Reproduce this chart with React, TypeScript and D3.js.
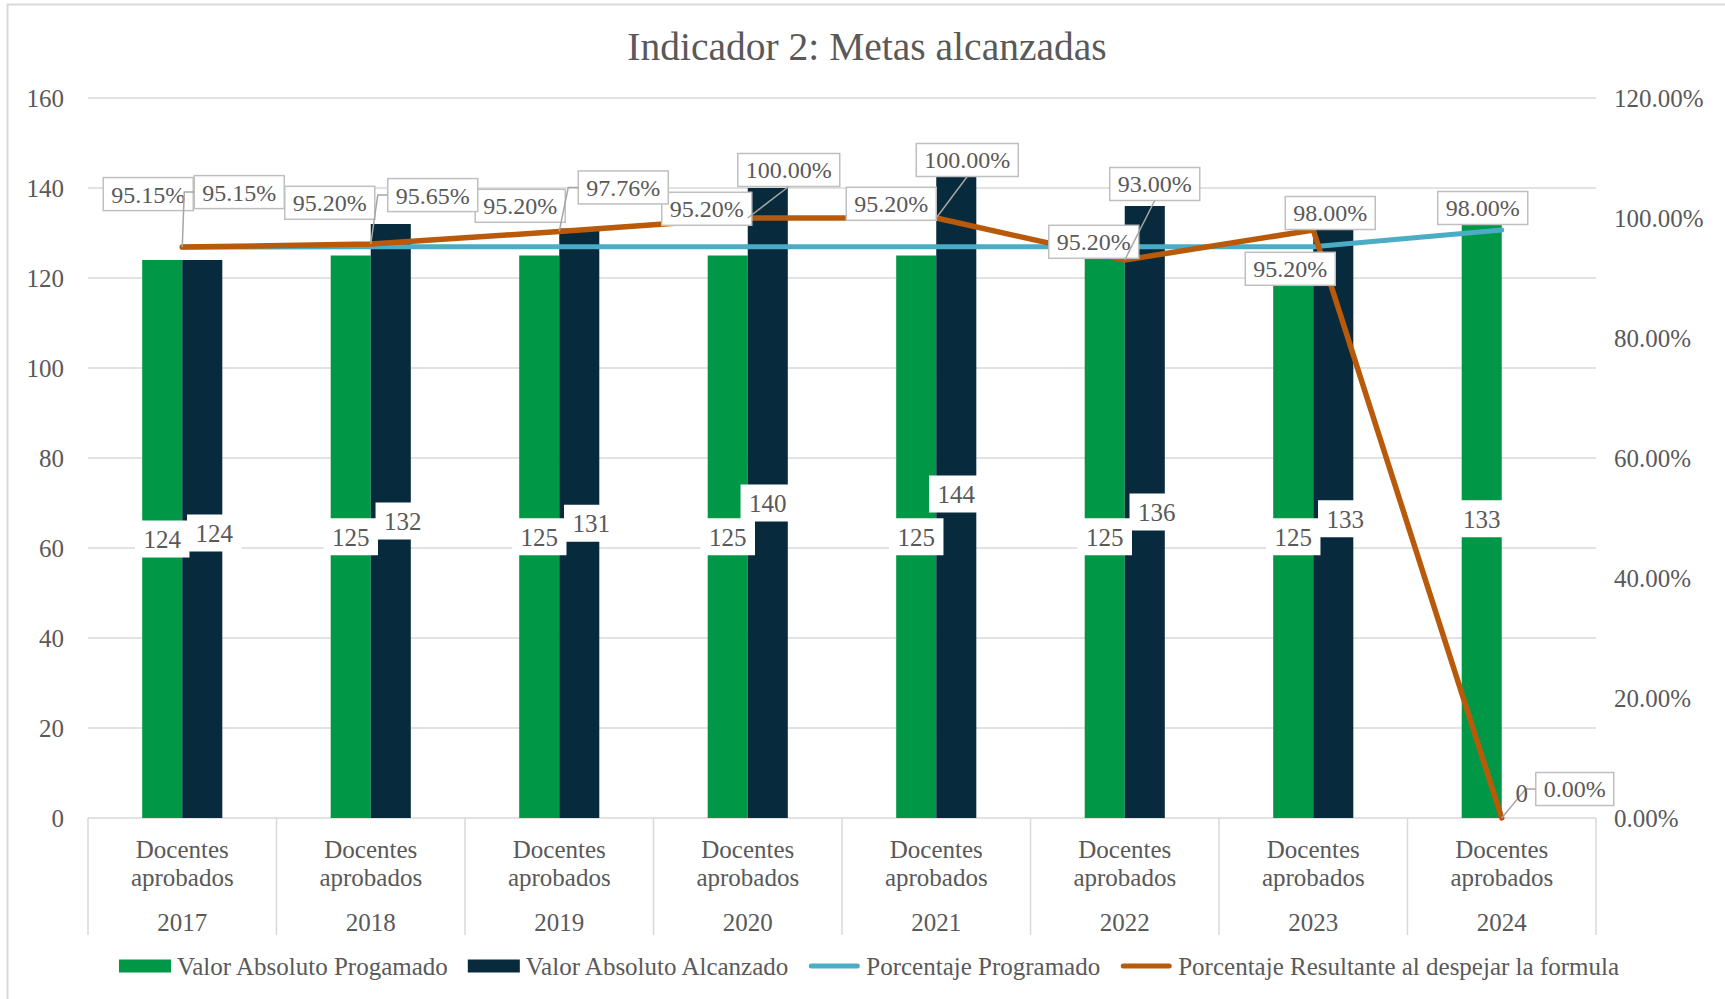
import React, { useEffect, useRef } from 'react';
import * as d3 from 'd3';

const years = ['2017', '2018', '2019', '2020', '2021', '2022', '2023', '2024'];
const categoryLines = ['Docentes', 'aprobados'];
const valorProgramado = [124, 125, 125, 125, 125, 125, 125, 133];
const valorAlcanzado = [124, 132, 131, 140, 144, 136, 133, 0];
const porcentajeProgramado = [95.15, 95.2, 95.2, 95.2, 95.2, 95.2, 95.2, 98.0];
const porcentajeResultante = [95.15, 95.65, 97.76, 100.0, 100.0, 93.0, 98.0, 0.0];
const leftTicks = [0, 20, 40, 60, 80, 100, 120, 140, 160];
const rightTicks = [0, 0.2, 0.4, 0.6, 0.8, 1.0, 1.2];
const seriesNames = [
  'Valor Absoluto Progamado',
  'Valor Absoluto Alcanzado',
  'Porcentaje Programado',
  'Porcentaje Resultante al despejar la formula',
];

// hand-placed label offsets (px from the point), like the excel sheet
const progLabelOffset = [[-34, -53], [-41, -44], [-39, -41], [-41, -38], [-45, -43], [-31, -5], [-23, 22], [-19, -22]];
const resLabelOffset = [[57, -55], [62, -49], [64, -44], [41, -48], [31, -58], [30, -76], [17, -17], [73, -29]];

const FONT = '"Liberation Serif", "Times New Roman", serif';
const TEXT = '#595959';
const GRID = '#D9D9D9';
const GREEN = '#009847';
const NAVY = '#072A3C';
const BLUE = '#4BACC6';
const ORANGE = '#B95A0A';

const draw = (el: SVGSVGElement) => {
  const svg = d3.select(el);
  svg.selectAll('*').remove();

  const left = 88, right = 1596, top = 98, base = 818;

  const x0 = d3.scaleBand().domain(years).range([left, right]);
  const bw = x0.bandwidth();
  const groupW = bw * 0.425;
  const x1 = d3.scaleBand().domain(['prog', 'alc']).range([-groupW / 2, groupW / 2]);
  const yL = d3.scaleLinear().domain([0, 160]).range([base, top]);
  const yR = d3.scaleLinear().domain([0, 1.2]).range([base, top]);
  const cx = (i: number) => (x0(years[i]) as number) + bw / 2;

  // chart border
  svg.append('rect')
    .attr('x', 7.5).attr('y', 4.5)
    .attr('width', 1800).attr('height', 1100)
    .attr('fill', '#fff')
    .attr('stroke', GRID).attr('stroke-width', 2);

  // title
  svg.append('text')
    .attr('x', 867).attr('y', 60)
    .attr('text-anchor', 'middle')
    .style('font-family', FONT).style('font-size', '39.5px')
    .attr('fill', TEXT)
    .text('Indicador 2: Metas alcanzadas');

  // gridlines
  svg.append('g').selectAll('line')
    .data(leftTicks)
    .enter().append('line')
    .attr('x1', left).attr('x2', right)
    .attr('y1', d => yL(d)).attr('y2', d => yL(d))
    .attr('stroke', GRID).attr('stroke-width', 1.5);

  // category dividers
  const bounds = d3.range(years.length + 1).map(i => left + i * bw);
  svg.append('g').selectAll('line')
    .data(bounds)
    .enter().append('line')
    .attr('x1', d => d).attr('x2', d => d)
    .attr('y1', base).attr('y2', 935)
    .attr('stroke', GRID).attr('stroke-width', 1.5);

  // left axis labels
  svg.append('g').selectAll('text')
    .data(leftTicks)
    .enter().append('text')
    .attr('x', 64).attr('y', d => yL(d)).attr('dy', '0.35em')
    .attr('text-anchor', 'end')
    .style('font-family', FONT).style('font-size', '25px')
    .attr('fill', TEXT)
    .text(d => d);

  // right axis labels
  svg.append('g').selectAll('text')
    .data(rightTicks)
    .enter().append('text')
    .attr('x', 1614).attr('y', d => yR(d)).attr('dy', '0.35em')
    .attr('text-anchor', 'start')
    .style('font-family', FONT).style('font-size', '25px')
    .attr('fill', TEXT)
    .text(d => d3.format('.2%')(d));

  // category labels
  const cat = svg.append('g')
    .style('font-family', FONT).style('font-size', '25px')
    .attr('fill', TEXT).attr('text-anchor', 'middle');
  years.forEach((yr, i) => {
    cat.append('text').attr('x', cx(i)).attr('y', 849).attr('dy', '0.35em').text(categoryLines[0]);
    cat.append('text').attr('x', cx(i)).attr('y', 877).attr('dy', '0.35em').text(categoryLines[1]);
    cat.append('text').attr('x', cx(i)).attr('y', 922).attr('dy', '0.35em').text(yr);
  });

  // bars
  const bars = svg.append('g');
  years.forEach((yr, i) => {
    bars.append('rect')
      .attr('x', cx(i) + (x1('prog') as number)).attr('width', x1.bandwidth())
      .attr('y', yL(valorProgramado[i])).attr('height', base - yL(valorProgramado[i]))
      .attr('fill', GREEN);
    bars.append('rect')
      .attr('x', cx(i) + (x1('alc') as number)).attr('width', x1.bandwidth())
      .attr('y', yL(valorAlcanzado[i])).attr('height', base - yL(valorAlcanzado[i]))
      .attr('fill', NAVY);
  });

  // lines
  const lineGen = d3.line<number>()
    .x((d, i) => cx(i))
    .y(d => yR(d / 100));
  svg.append('path')
    .datum(porcentajeProgramado)
    .attr('d', lineGen)
    .attr('fill', 'none').attr('stroke', BLUE).attr('stroke-width', 5)
    .attr('stroke-linejoin', 'round').attr('stroke-linecap', 'round');
  svg.append('path')
    .datum(porcentajeResultante)
    .attr('d', lineGen)
    .attr('fill', 'none').attr('stroke', ORANGE).attr('stroke-width', 5.5)
    .attr('stroke-linejoin', 'round').attr('stroke-linecap', 'round');

  // boxed label helper
  const boxLabel = (g: any, x: number, y: number, txt: string, size: number, h: number, pad: number, stroke: string | null) => {
    const lg = g.append('g');
    const r = lg.append('rect');
    const t = lg.append('text')
      .attr('x', x).attr('y', y).attr('dy', '0.35em')
      .attr('text-anchor', 'middle')
      .style('font-family', FONT).style('font-size', size + 'px')
      .attr('fill', TEXT)
      .text(txt);
    const w = (t.node() as SVGTextElement).getComputedTextLength() + pad * 2;
    r.attr('x', x - w / 2).attr('y', y - h / 2).attr('width', w).attr('height', h)
      .attr('fill', '#fff');
    if (stroke) r.attr('stroke', stroke).attr('stroke-width', 1.5);
    return { x0: x - w / 2, x1: x + w / 2, y0: y - h / 2, y1: y + h / 2 };
  };

  // bar value labels
  const barLabels = svg.append('g');
  years.forEach((yr, i) => {
    const gx = cx(i) + (x1('prog') as number) + x1.bandwidth() / 2;
    const gy = yL(valorProgramado[i] / 2);
    boxLabel(barLabels, gx, gy, String(valorProgramado[i]), 25, 37, 8.5, null);
    if (valorAlcanzado[i] > 0) {
      const ay = yL(valorAlcanzado[i] / 2);
      const shift = Math.abs(ay - gy) < 30 ? 12 : 0;
      const ax = cx(i) + (x1('alc') as number) + x1.bandwidth() / 2 + shift;
      boxLabel(barLabels, ax, ay - (Math.abs(ay - gy) < 4 ? 6 : 0), String(valorAlcanzado[i]), 25, 37, 8.5, null);
    }
  });

  // line labels
  const lineLabels = svg.append('g');
  years.forEach((yr, i) => {
    const px = cx(i), py = yR(porcentajeProgramado[i] / 100);
    boxLabel(lineLabels, px + progLabelOffset[i][0], py + progLabelOffset[i][1],
      porcentajeProgramado[i].toFixed(2) + '%', 24, 33, 8, '#BFBFBF');
  });
  const leaders: [number, number][][] = [];
  years.forEach((yr, i) => {
    const px = cx(i), py = yR(porcentajeResultante[i] / 100);
    const b = boxLabel(lineLabels, px + resLabelOffset[i][0], py + resLabelOffset[i][1],
      porcentajeResultante[i].toFixed(2) + '%', 24, 33, 8, '#BFBFBF');
    const cy = (b.y0 + b.y1) / 2;
    if (py - b.y1 < 8 && px >= b.x0 && px <= b.x1) return;
    if (px >= b.x0 && px <= b.x1) {
      leaders.push([[px, py], [(b.x0 + b.x1) / 2, b.y1]]);
    } else {
      leaders.push([[px, py], [b.x0 - 10, cy], [b.x0, cy]]);
    }
  });
  svg.append('g').selectAll('path')
    .data(leaders)
    .enter().append('path')
    .attr('d', d => d3.line()(d))
    .attr('fill', 'none').attr('stroke', '#A6A6A6').attr('stroke-width', 1.5);

  // zero-height bar label
  years.forEach((yr, i) => {
    if (valorAlcanzado[i] === 0) {
      svg.append('text')
        .attr('x', cx(i) + (x1('alc') as number) + x1.bandwidth() / 2)
        .attr('y', base - 25).attr('dy', '0.35em')
        .attr('text-anchor', 'middle')
        .style('font-family', FONT).style('font-size', '25px')
        .attr('fill', TEXT)
        .text(valorAlcanzado[i]);
    }
  });

  // legend
  const legend = svg.append('g')
    .style('font-family', FONT).style('font-size', '25px').attr('fill', TEXT);
  const swW = 52, gap = 6, spacing = 20, ly = 966;
  const items = seriesNames.map((name, k) => {
    const g = legend.append('g');
    const t = g.append('text').attr('y', ly).attr('dy', '0.35em').text(name);
    const w = (t.node() as SVGTextElement).getComputedTextLength();
    return { g, t, w, k };
  });
  const total = d3.sum(items, d => swW + gap + d.w) + spacing * (items.length - 1);
  let lx = 869 - total / 2;
  const swColors = [GREEN, NAVY, BLUE, ORANGE];
  items.forEach(it => {
    if (it.k < 2) {
      it.g.insert('rect', 'text')
        .attr('x', lx).attr('y', ly - 6.5).attr('width', swW).attr('height', 13)
        .attr('fill', swColors[it.k]);
    } else {
      it.g.insert('line', 'text')
        .attr('x1', lx + 3).attr('x2', lx + swW - 3)
        .attr('y1', ly).attr('y2', ly)
        .attr('stroke', swColors[it.k]).attr('stroke-width', 5)
        .attr('stroke-linecap', 'round');
    }
    it.t.attr('x', lx + swW + gap);
    lx += swW + gap + it.w + spacing;
  });
};

export default function App() {
  const ref = useRef<SVGSVGElement>(null);
  useEffect(() => {
    if (ref.current) draw(ref.current);
  }, []);
  return (
    <svg
      ref={ref}
      width={1725}
      height={999}
      style={{ position: 'absolute', left: 0, top: 0, background: '#fff' }}
    />
  );
}
